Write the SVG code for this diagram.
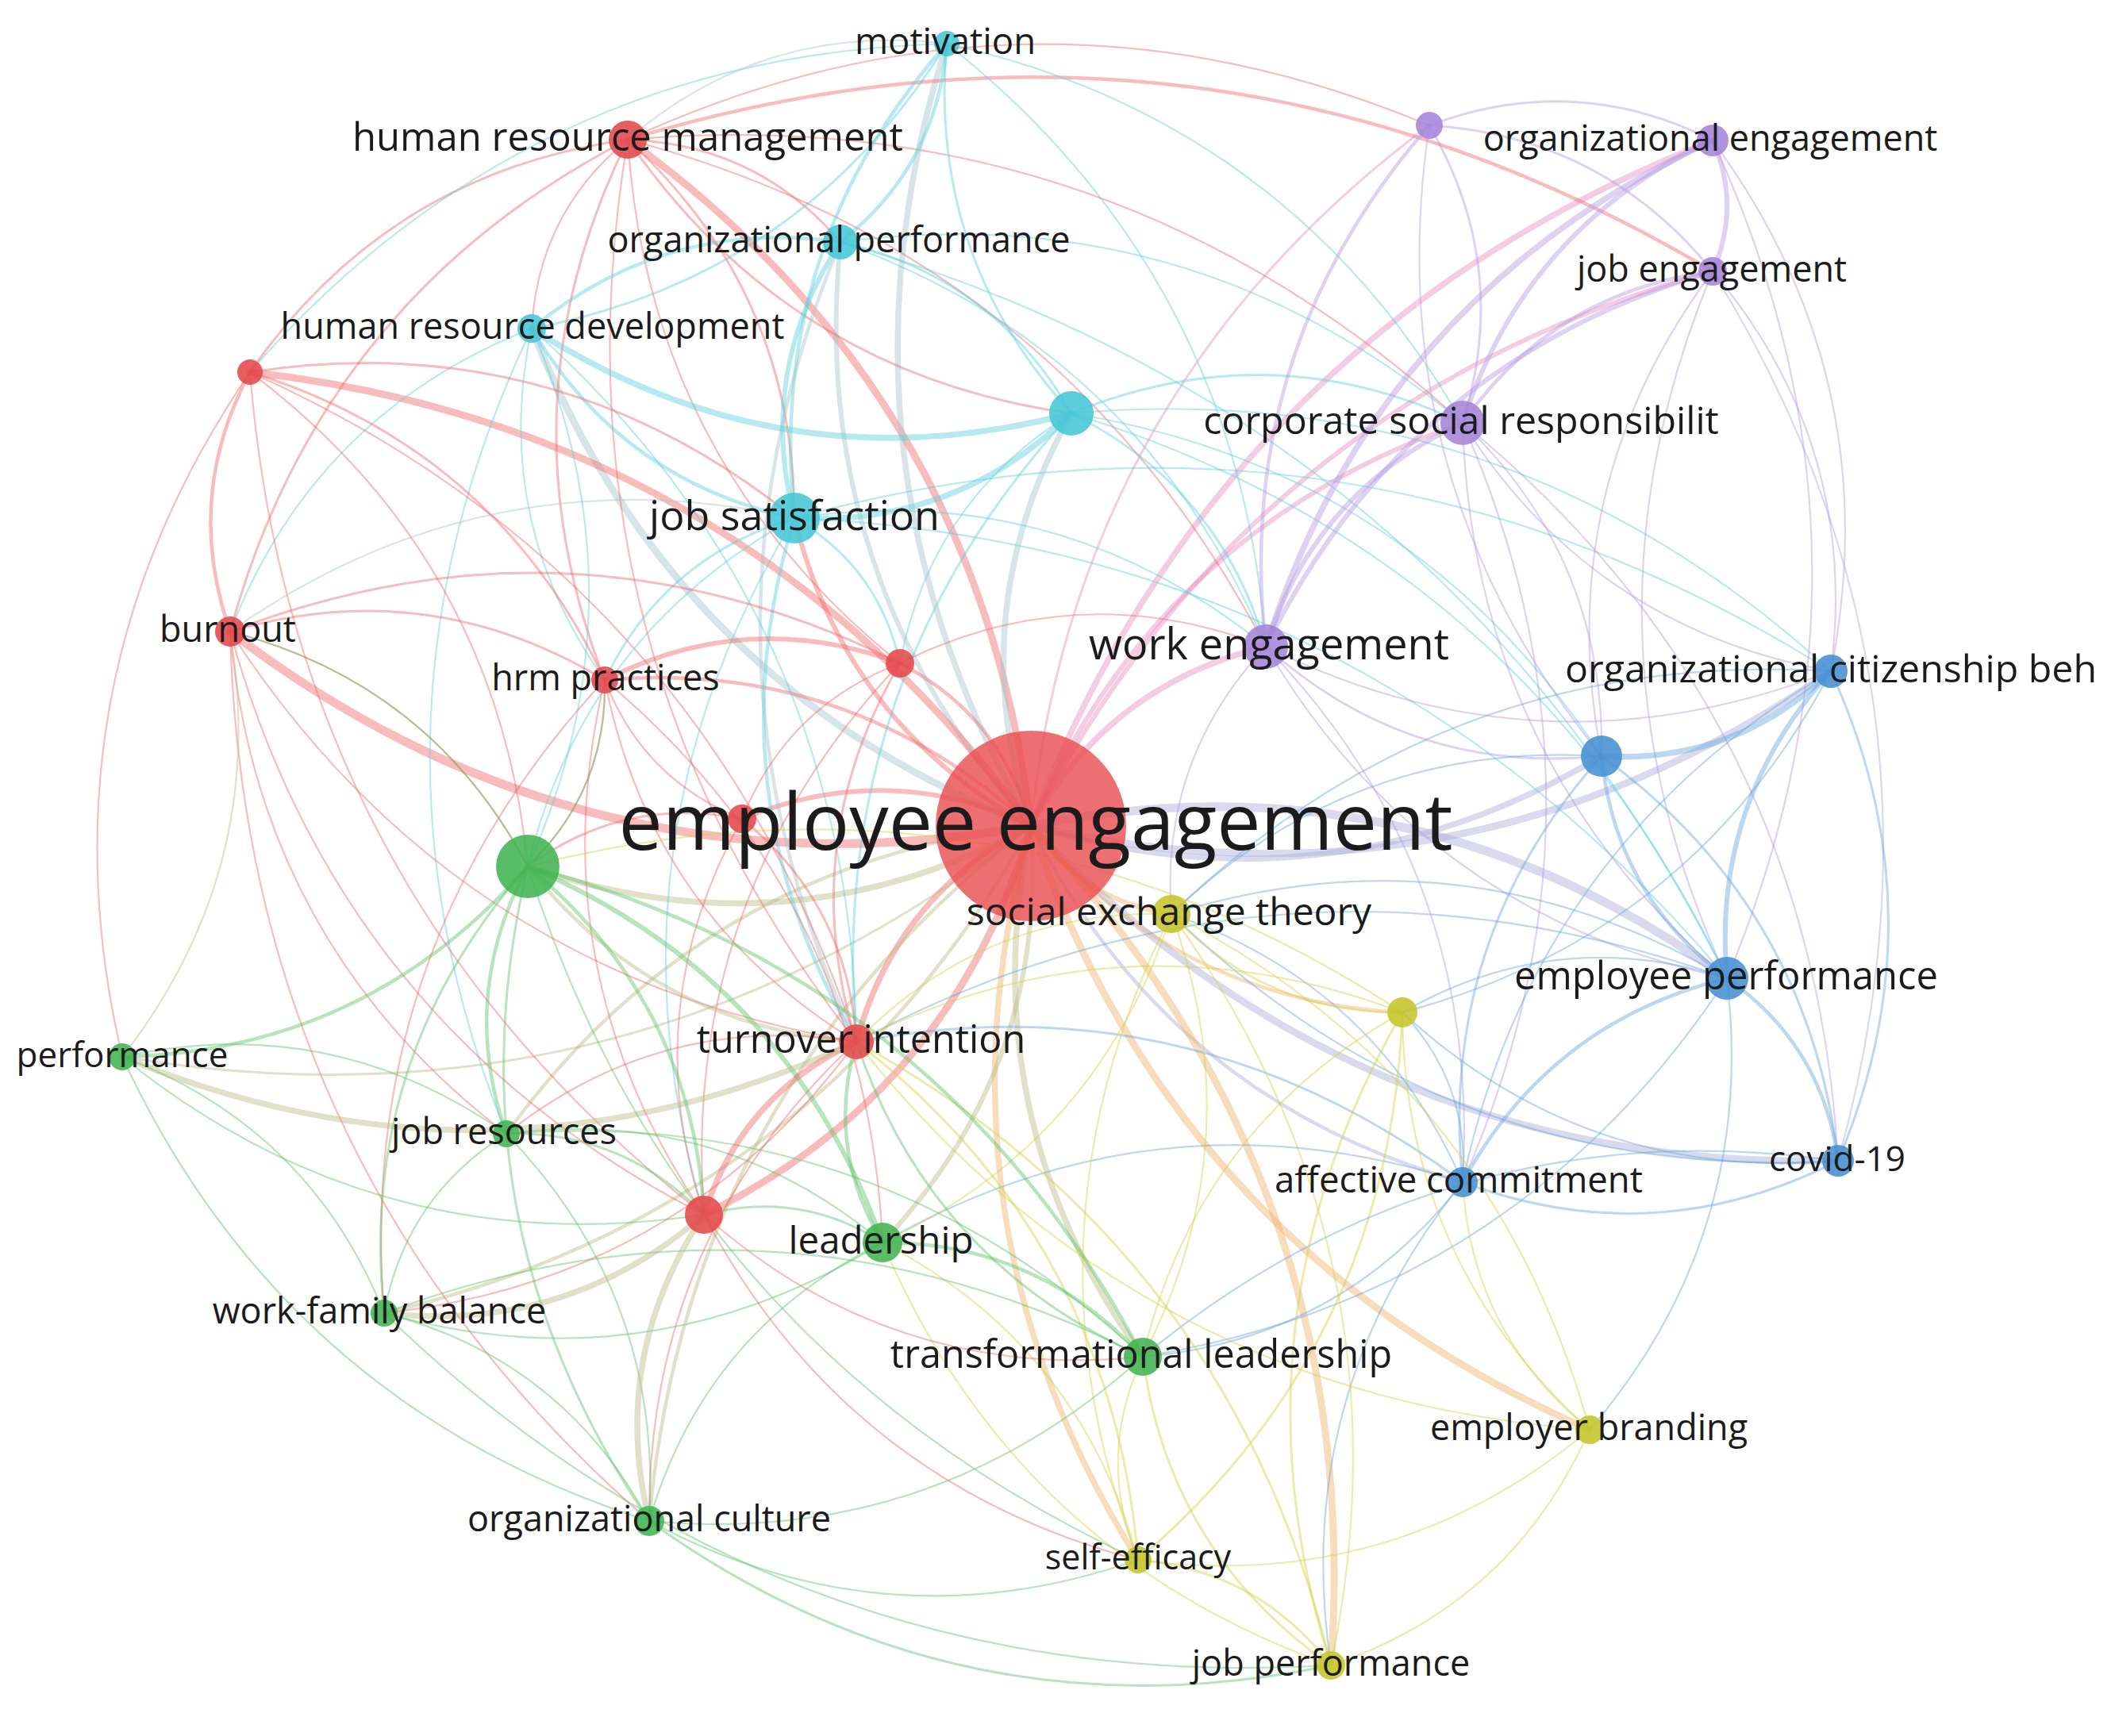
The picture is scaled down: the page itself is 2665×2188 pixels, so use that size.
<svg xmlns="http://www.w3.org/2000/svg" width="2665" height="2188" viewBox="0 0 2665 2188">
<style>
.e{fill:none;vector-effect:non-scaling-stroke;stroke-linecap:round;stroke-opacity:.45}
.w2{stroke-width:2.2}.w3{stroke-width:3}.w4{stroke-width:4.5}.w5{stroke-width:6}.w6{stroke-width:7.5}.w7{stroke-width:9}.w8{stroke-width:11}
.r{stroke:#ef6b6d}.g{stroke:#5fc46a}.b{stroke:#6aa7de}.y{stroke:#d3d348}.p{stroke:#b69ae2}.c{stroke:#5fd0de}
.rc{stroke:#a6c6cc}.rb{stroke:#aaaed6}.ry{stroke:#eeb46a}.rg{stroke:#bdbb86}.rp{stroke:#e791bf}.pb{stroke:#9fb0e0}
circle{fill-opacity:.88}
.nr{fill:#e4484b}.ng{fill:#41b451}.nb{fill:#4690d3}.ny{fill:#c5c52a}.np{fill:#a484d8}.nc{fill:#45c6d6}
.big{fill:#ea4f52;fill-opacity:.82}
.t{font-family:"Open Sans","Liberation Sans",sans-serif;fill:#1b1b1b;text-anchor:middle}
</style>
<rect width="2665" height="2188" fill="#fff"/>
<g id="connectors">
<path class="e r w7" d="M0 0Q.5 .22 1 0" transform="matrix(-508 -865 865 -508 1299 1041)"/>
<path class="e rc w6" d="M0 0Q.5-.22 1 0" transform="matrix(-106 -986 986 -106 1299 1041)"/>
<path class="e rc w5" d="M0 0Q.5-.22 1 0" transform="matrix(-240 -736 736 -240 1299 1041)"/>
<path class="e rc w7" d="M0 0Q.5-.22 1 0" transform="matrix(-629 -627 627 -629 1299 1041)"/>
<path class="e r w7" d="M0 0Q.5 .22 1 0" transform="matrix(-984 -572 572 -984 1299 1041)"/>
<path class="e rc w6" d="M0 0Q.5-.22 1 0" transform="matrix(51 -520 520 51 1299 1041)"/>
<path class="e r w5" d="M0 0Q.5-.22 1 0" transform="matrix(-298 -388 388 -298 1299 1041)"/>
<path class="e r w8" d="M0 0Q.5-.22 1 0" transform="matrix(-1009 -245 245 -1009 1299 1041)"/>
<path class="e r w4" d="M0 0Q.5 .22 1 0" transform="matrix(-537 -184 184 -537 1299 1041)"/>
<path class="e r w4" d="M0 0Q.5 .22 1 0" transform="matrix(-165 -205 205 -165 1299 1041)"/>
<path class="e rp w6" d="M0 0Q.5-.22 1 0" transform="matrix(296 -226 226 296 1299 1041)"/>
<path class="e rp w5" d="M0 0Q.5-.22 1 0" transform="matrix(544 -508 508 544 1299 1041)"/>
<path class="e rp w6" d="M0 0Q.5-.22 1 0" transform="matrix(859 -864 864 859 1299 1041)"/>
<path class="e rp w5" d="M0 0Q.5-.22 1 0" transform="matrix(859 -699 699 859 1299 1041)"/>
<path class="e rp w3" d="M0 0Q.5-.22 1 0" transform="matrix(502 -883 883 502 1299 1041)"/>
<path class="e rb w7" d="M0 0Q.5 .22 1 0" transform="matrix(1008 -195 195 1008 1299 1041)"/>
<path class="e rb w6" d="M0 0Q.5 .22 1 0" transform="matrix(719 -88 88 719 1299 1041)"/>
<path class="e rb w8" d="M0 0Q.5-.22 1 0" transform="matrix(877 192 -192 877 1299 1041)"/>
<path class="e rb w7" d="M0 0Q.5 .22 1 0" transform="matrix(1017 422 -422 1017 1299 1041)"/>
<path class="e rb w4" d="M0 0Q.5 .22 1 0" transform="matrix(544 449 -449 544 1299 1041)"/>
<path class="e ry w4" d="M0 0Q.5 .22 1 0" transform="matrix(468 235 -235 468 1299 1041)"/>
<path class="e ry w5" d="M0 0Q.5 .22 1 0" transform="matrix(177 111 -111 177 1299 1041)"/>
<path class="e ry w7" d="M0 0Q.5 .22 1 0" transform="matrix(704 761 -761 704 1299 1041)"/>
<path class="e ry w7" d="M0 0Q.5-.22 1 0" transform="matrix(378 1058 -1058 378 1299 1041)"/>
<path class="e ry w6" d="M0 0Q.5 .22 1 0" transform="matrix(135 925 -925 135 1299 1041)"/>
<path class="e rg w6" d="M0 0Q.5 .22 1 0" transform="matrix(141 669 -669 141 1299 1041)"/>
<path class="e rg w5" d="M0 0Q.5-.22 1 0" transform="matrix(-187 525 -525 -187 1299 1041)"/>
<path class="e r w6" d="M0 0Q.5 .22 1 0" transform="matrix(-220 272 -272 -220 1299 1041)"/>
<path class="e r w7" d="M0 0Q.5-.22 1 0" transform="matrix(-412 490 -490 -412 1299 1041)"/>
<path class="e rg w6" d="M0 0Q.5-.22 1 0" transform="matrix(-634 51 -51 -634 1299 1041)"/>
<path class="e rg w4" d="M0 0Q.5 .22 1 0" transform="matrix(-661 388 -388 -661 1299 1041)"/>
<path class="e rg w4" d="M0 0Q.5-.22 1 0" transform="matrix(-815 614 -614 -815 1299 1041)"/>
<path class="e rg w4" d="M0 0Q.5 .22 1 0" transform="matrix(-481 876 -876 -481 1299 1041)"/>
<path class="e rg w3" d="M0 0Q.5-.22 1 0" transform="matrix(-1145 291 -291 -1145 1299 1041)"/>
<path class="e r w5" d="M0 0Q.5 .22 1 0" transform="matrix(-364 -9 9 -364 1299 1041)"/>
<path class="e r w3" d="M0 0Q.5 .22 1 0" transform="matrix(-476 293 -293 -476 791 176)"/>
<path class="e r w3" d="M0 0Q.5 .22 1 0" transform="matrix(-501 620 -620 -501 791 176)"/>
<path class="e r w3" d="M0 0Q.5-.22 1 0" transform="matrix(268 129 -129 268 791 176)"/>
<path class="e r w3" d="M0 0Q.5-.22 1 0" transform="matrix(210 477 -477 210 791 176)"/>
<path class="e r w3" d="M0 0Q.5 .22 1 0" transform="matrix(559 345 -345 559 791 176)"/>
<path class="e r w2" d="M0 0Q.5-.22 1 0" transform="matrix(804 639 -639 804 791 176)"/>
<path class="e r w4" d="M0 0Q.5-.22 1 0" transform="matrix(1367 166 -166 1367 791 176)"/>
<path class="e r w3" d="M0 0Q.5 .22 1 0" transform="matrix(-29 681 -681 -29 791 176)"/>
<path class="e r w2" d="M0 0Q.5 .22 1 0" transform="matrix(288 1137 -1137 288 791 176)"/>
<path class="e r w2" d="M0 0Q.5 .22 1 0" transform="matrix(-121 238 -238 -121 791 176)"/>
<path class="e r w2" d="M0 0Q.5-.22 1 0" transform="matrix(1052 357 -357 1052 791 176)"/>
<path class="e r w2" d="M0 0Q.5 .22 1 0" transform="matrix(343 660 -660 343 791 176)"/>
<path class="e r w2" d="M0 0Q.5-.22 1 0" transform="matrix(1010 -18 18 1010 791 176)"/>
<path class="e c w4" d="M0 0Q.5 .22 1 0" transform="matrix(-192 598 -598 -192 1193 55)"/>
<path class="e c w4" d="M0 0Q.5-.22 1 0" transform="matrix(-134 250 -250 -134 1193 55)"/>
<path class="e c w3" d="M0 0Q.5 .22 1 0" transform="matrix(157 466 -466 157 1193 55)"/>
<path class="e c w3" d="M0 0Q.5-.22 1 0" transform="matrix(-523 359 -359 -523 1193 55)"/>
<path class="e c w2" d="M0 0Q.5 .22 1 0" transform="matrix(-878 414 -414 -878 1193 55)"/>
<path class="e c w2" d="M0 0Q.5-.22 1 0" transform="matrix(650 478 -478 650 1193 55)"/>
<path class="e c w2" d="M0 0Q.5-.22 1 0" transform="matrix(402 760 -760 402 1193 55)"/>
<path class="e rc w2" d="M0 0Q.5 .22 1 0" transform="matrix(-402 121 -121 -402 1193 55)"/>
<path class="e c w5" d="M0 0Q.5 .22 1 0" transform="matrix(-58 348 -348 -58 1059 305)"/>
<path class="e c w4" d="M0 0Q.5 .22 1 0" transform="matrix(-389 109 -109 -389 1059 305)"/>
<path class="e c w3" d="M0 0Q.5-.22 1 0" transform="matrix(291 216 -216 291 1059 305)"/>
<path class="e c w2" d="M0 0Q.5-.22 1 0" transform="matrix(784 228 -228 784 1059 305)"/>
<path class="e c w2" d="M0 0Q.5-.22 1 0" transform="matrix(536 510 -510 536 1059 305)"/>
<path class="e c w2" d="M0 0Q.5-.22 1 0" transform="matrix(1117 928 -928 1117 1059 305)"/>
<path class="e rc w4" d="M0 0Q.5 .22 1 0" transform="matrix(20 1008 -1008 20 1059 305)"/>
<path class="e c w6" d="M0 0Q.5 .22 1 0" transform="matrix(680 107 -107 680 670 414)"/>
<path class="e c w4" d="M0 0Q.5 .22 1 0" transform="matrix(331 239 -239 331 670 414)"/>
<path class="e c w2" d="M0 0Q.5-.22 1 0" transform="matrix(-5 678 -678 -5 670 414)"/>
<path class="e c w2" d="M0 0Q.5 .22 1 0" transform="matrix(92 443 -443 92 670 414)"/>
<path class="e c w2" d="M0 0Q.5 .22 1 0" transform="matrix(-380 382 -382 -380 670 414)"/>
<path class="e c w2" d="M0 0Q.5 .22 1 0" transform="matrix(-32 1015 -1015 -32 670 414)"/>
<path class="e c w2" d="M0 0Q.5-.22 1 0" transform="matrix(409 899 -899 409 670 414)"/>
<path class="e r w4" d="M0 0Q.5 .22 1 0" transform="matrix(-25 327 -327 -25 315 469)"/>
<path class="e r w3" d="M0 0Q.5-.22 1 0" transform="matrix(686 184 -184 686 315 469)"/>
<path class="e r w3" d="M0 0Q.5-.22 1 0" transform="matrix(447 388 -388 447 315 469)"/>
<path class="e r w2" d="M0 0Q.5-.22 1 0" transform="matrix(764 844 -844 764 315 469)"/>
<path class="e r w2" d="M0 0Q.5 .22 1 0" transform="matrix(572 1062 -1062 572 315 469)"/>
<path class="e r w2" d="M0 0Q.5-.22 1 0" transform="matrix(350 623 -623 350 315 469)"/>
<path class="e r w2" d="M0 0Q.5 .22 1 0" transform="matrix(-161 863 -863 -161 315 469)"/>
<path class="e c w6" d="M0 0Q.5-.22 1 0" transform="matrix(-349 132 -132 -349 1350 521)"/>
<path class="e c w3" d="M0 0Q.5-.22 1 0" transform="matrix(493 12 -12 493 1350 521)"/>
<path class="e c w2" d="M0 0Q.5-.22 1 0" transform="matrix(957 325 -325 957 1350 521)"/>
<path class="e c w2" d="M0 0Q.5-.22 1 0" transform="matrix(826 712 -712 826 1350 521)"/>
<path class="e c w3" d="M0 0Q.5-.22 1 0" transform="matrix(245 294 -294 245 1350 521)"/>
<path class="e c w2" d="M0 0Q.5-.22 1 0" transform="matrix(668 432 -432 668 1350 521)"/>
<path class="e c w2" d="M0 0Q.5 .22 1 0" transform="matrix(-216 315 -315 -216 1350 521)"/>
<path class="e c w3" d="M0 0Q.5 .22 1 0" transform="matrix(-271 792 -792 -271 1350 521)"/>
<path class="e c w3" d="M0 0Q.5 .22 1 0" transform="matrix(-239 204 -204 -239 1001 653)"/>
<path class="e c w4" d="M0 0Q.5 .22 1 0" transform="matrix(78 660 -660 78 1001 653)"/>
<path class="e c w2" d="M0 0Q.5-.22 1 0" transform="matrix(594 162 -162 594 1001 653)"/>
<path class="e c w2" d="M0 0Q.5-.22 1 0" transform="matrix(1306 193 -193 1306 1001 653)"/>
<path class="e rc w2" d="M0 0Q.5 .22 1 0" transform="matrix(-711 143 -143 -711 1001 653)"/>
<path class="e c w2" d="M0 0Q.5 .22 1 0" transform="matrix(-336 439 -439 -336 1001 653)"/>
<path class="e c w3" d="M0 0Q.5-.22 1 0" transform="matrix(133 183 -183 133 1001 653)"/>
<path class="e c w2" d="M0 0Q.5-.22 1 0" transform="matrix(1175 580 -580 1175 1001 653)"/>
<path class="e c w2" d="M0 0Q.5 .22 1 0" transform="matrix(-114 878 -878 -114 1001 653)"/>
<path class="e r w3" d="M0 0Q.5-.22 1 0" transform="matrix(844 40 -40 844 290 796)"/>
<path class="e r w3" d="M0 0Q.5-.22 1 0" transform="matrix(472 61 -61 472 290 796)"/>
<path class="e r w2" d="M0 0Q.5 .22 1 0" transform="matrix(789 517 -517 789 290 796)"/>
<path class="e r w2" d="M0 0Q.5 .22 1 0" transform="matrix(597 735 -735 597 290 796)"/>
<path class="e r w2" d="M0 0Q.5-.22 1 0" transform="matrix(375 296 -296 375 290 796)"/>
<path class="e r w2" d="M0 0Q.5 .22 1 0" transform="matrix(348 633 -633 348 290 796)"/>
<path class="e r w2" d="M0 0Q.5 .22 1 0" transform="matrix(528 1121 -1121 528 290 796)"/>
<path class="e r w5" d="M0 0Q.5-.22 1 0" transform="matrix(372 -21 21 372 762 857)"/>
<path class="e r w2" d="M0 0Q.5 .22 1 0" transform="matrix(317 456 -456 317 762 857)"/>
<path class="e r w2" d="M0 0Q.5 .22 1 0" transform="matrix(125 674 -674 125 762 857)"/>
<path class="e r w2" d="M0 0Q.5-.22 1 0" transform="matrix(-97 235 -235 -97 762 857)"/>
<path class="e r w2" d="M0 0Q.5-.22 1 0" transform="matrix(350 709 -709 350 762 857)"/>
<path class="e r w2" d="M0 0Q.5 .22 1 0" transform="matrix(173 175 -175 173 762 857)"/>
<path class="e r w2" d="M0 0Q.5 .22 1 0" transform="matrix(-278 798 -798 -278 762 857)"/>
<path class="e r w3" d="M0 0Q.5 .22 1 0" transform="matrix(-55 477 -477 -55 1134 836)"/>
<path class="e r w2" d="M0 0Q.5 .22 1 0" transform="matrix(-247 695 -695 -247 1134 836)"/>
<path class="e r w2" d="M0 0Q.5-.22 1 0" transform="matrix(461 -21 21 461 1134 836)"/>
<path class="e r w2" d="M0 0Q.5 .22 1 0" transform="matrix(-199 196 -196 -199 1134 836)"/>
<path class="e r w3" d="M0 0Q.5-.22 1 0" transform="matrix(144 281 -281 144 935 1032)"/>
<path class="e r w3" d="M0 0Q.5 .22 1 0" transform="matrix(-270 60 -60 -270 935 1032)"/>
<path class="e r w2" d="M0 0Q.5 .22 1 0" transform="matrix(-48 499 -499 -48 935 1032)"/>
<path class="e p w6" d="M0 0Q.5-.22 1 0" transform="matrix(563 -638 638 563 1595 815)"/>
<path class="e p w5" d="M0 0Q.5-.22 1 0" transform="matrix(563 -473 473 563 1595 815)"/>
<path class="e p w4" d="M0 0Q.5-.22 1 0" transform="matrix(206 -657 657 206 1595 815)"/>
<path class="e p w5" d="M0 0Q.5-.22 1 0" transform="matrix(248 -282 282 248 1595 815)"/>
<path class="e p w2" d="M0 0Q.5 .22 1 0" transform="matrix(712 31 -31 712 1595 815)"/>
<path class="e p w3" d="M0 0Q.5 .22 1 0" transform="matrix(423 138 -138 423 1595 815)"/>
<path class="e p w2" d="M0 0Q.5 .22 1 0" transform="matrix(581 418 -418 581 1595 815)"/>
<path class="e p w2" d="M0 0Q.5-.22 1 0" transform="matrix(248 675 -675 248 1595 815)"/>
<path class="e p w2" d="M0 0Q.5 .22 1 0" transform="matrix(-119 337 -337 -119 1595 815)"/>
<path class="e p w5" d="M0 0Q.5-.22 1 0" transform="matrix(315 -356 356 315 1843 533)"/>
<path class="e p w4" d="M0 0Q.5-.22 1 0" transform="matrix(315 -191 191 315 1843 533)"/>
<path class="e p w3" d="M0 0Q.5 .22 1 0" transform="matrix(-42 -375 375 -42 1843 533)"/>
<path class="e p w2" d="M0 0Q.5 .22 1 0" transform="matrix(464 313 -313 464 1843 533)"/>
<path class="e p w2" d="M0 0Q.5 .22 1 0" transform="matrix(333 700 -700 333 1843 533)"/>
<path class="e p w2" d="M0 0Q.5-.22 1 0" transform="matrix(175 420 -420 175 1843 533)"/>
<path class="e p w2" d="M0 0Q.5-.22 1 0" transform="matrix(0 957 -957 0 1843 533)"/>
<path class="e p w2" d="M0 0Q.5-.22 1 0" transform="matrix(473 930 -930 473 1843 533)"/>
<path class="e p w5" d="M0 0Q.5-.22 1 0" transform="matrix(0 165 -165 0 2158 177)"/>
<path class="e p w3" d="M0 0Q.5 .22 1 0" transform="matrix(-357 -19 19 -357 2158 177)"/>
<path class="e p w2" d="M0 0Q.5-.22 1 0" transform="matrix(149 669 -669 149 2158 177)"/>
<path class="e p w2" d="M0 0Q.5-.22 1 0" transform="matrix(18 1056 -1056 18 2158 177)"/>
<path class="e p w3" d="M0 0Q.5 .22 1 0" transform="matrix(-357 -184 184 -357 2158 342)"/>
<path class="e pb w2" d="M0 0Q.5-.22 1 0" transform="matrix(158 1121 -1121 158 2158 342)"/>
<path class="e p w2" d="M0 0Q.5-.22 1 0" transform="matrix(149 504 -504 149 2158 342)"/>
<path class="e p w2" d="M0 0Q.5 .22 1 0" transform="matrix(-140 611 -611 -140 2158 342)"/>
<path class="e p w2" d="M0 0Q.5 .22 1 0" transform="matrix(18 891 -891 18 2158 342)"/>
<path class="e p w2" d="M0 0Q.5 .22 1 0" transform="matrix(217 795 -795 217 1801 158)"/>
<path class="e b w6" d="M0 0Q.5-.22 1 0" transform="matrix(-289 107 -107 -289 2307 846)"/>
<path class="e b w5" d="M0 0Q.5 .22 1 0" transform="matrix(-131 387 -387 -131 2307 846)"/>
<path class="e b w3" d="M0 0Q.5-.22 1 0" transform="matrix(9 617 -617 9 2307 846)"/>
<path class="e b w2" d="M0 0Q.5 .22 1 0" transform="matrix(-464 644 -644 -464 2307 846)"/>
<path class="e b w2" d="M0 0Q.5 .22 1 0" transform="matrix(-831 306 -306 -831 2307 846)"/>
<path class="e b w2" d="M0 0Q.5-.22 1 0" transform="matrix(-540 430 -430 -540 2307 846)"/>
<path class="e b w4" d="M0 0Q.5 .22 1 0" transform="matrix(158 280 -280 158 2018 953)"/>
<path class="e b w3" d="M0 0Q.5 .22 1 0" transform="matrix(-175 537 -537 -175 2018 953)"/>
<path class="e b w3" d="M0 0Q.5-.22 1 0" transform="matrix(298 510 -510 298 2018 953)"/>
<path class="e b w2" d="M0 0Q.5 .22 1 0" transform="matrix(-542 199 -199 -542 2018 953)"/>
<path class="e b w4" d="M0 0Q.5-.22 1 0" transform="matrix(140 230 -230 140 2176 1233)"/>
<path class="e b w4" d="M0 0Q.5 .22 1 0" transform="matrix(-333 257 -257 -333 2176 1233)"/>
<path class="e b w2" d="M0 0Q.5 .22 1 0" transform="matrix(-409 43 -43 -409 2176 1233)"/>
<path class="e b w2" d="M0 0Q.5 .22 1 0" transform="matrix(-700 -81 81 -700 2176 1233)"/>
<path class="e b w2" d="M0 0Q.5 .22 1 0" transform="matrix(-1097 80 -80 -1097 2176 1233)"/>
<path class="e b w2" d="M0 0Q.5-.22 1 0" transform="matrix(-736 477 -477 -736 2176 1233)"/>
<path class="e b w2" d="M0 0Q.5-.22 1 0" transform="matrix(-173 569 -569 -173 2176 1233)"/>
<path class="e b w3" d="M0 0Q.5 .22 1 0" transform="matrix(473 -27 27 473 1843 1490)"/>
<path class="e b w2" d="M0 0Q.5 .22 1 0" transform="matrix(-367 -338 338 -367 1843 1490)"/>
<path class="e b w2" d="M0 0Q.5 .22 1 0" transform="matrix(-76 -214 214 -76 1843 1490)"/>
<path class="e b w3" d="M0 0Q.5 .22 1 0" transform="matrix(-764 -177 177 -764 1843 1490)"/>
<path class="e b w2" d="M0 0Q.5-.22 1 0" transform="matrix(-403 220 -220 -403 1843 1490)"/>
<path class="e b w2" d="M0 0Q.5 .22 1 0" transform="matrix(-166 609 -609 -166 1843 1490)"/>
<path class="e b w2" d="M0 0Q.5 .22 1 0" transform="matrix(-731 76 -76 -731 1843 1490)"/>
<path class="e b w2" d="M0 0Q.5-.22 1 0" transform="matrix(-549 -187 187 -549 2316 1463)"/>
<path class="e b w2" d="M0 0Q.5-.22 1 0" transform="matrix(-840 -311 311 -840 2316 1463)"/>
<path class="e b w2" d="M0 0Q.5 .22 1 0" transform="matrix(-876 247 -247 -876 2316 1463)"/>
<path class="e y w3" d="M0 0Q.5 .22 1 0" transform="matrix(291 124 -124 291 1476 1152)"/>
<path class="e y w2" d="M0 0Q.5-.22 1 0" transform="matrix(527 650 -650 527 1476 1152)"/>
<path class="e y w2" d="M0 0Q.5-.22 1 0" transform="matrix(201 947 -947 201 1476 1152)"/>
<path class="e y w2" d="M0 0Q.5 .22 1 0" transform="matrix(-42 814 -814 -42 1476 1152)"/>
<path class="e y w2" d="M0 0Q.5-.22 1 0" transform="matrix(-36 558 -558 -36 1476 1152)"/>
<path class="e y w2" d="M0 0Q.5 .22 1 0" transform="matrix(-397 161 -161 -397 1476 1152)"/>
<path class="e y w2" d="M0 0Q.5-.22 1 0" transform="matrix(-364 414 -414 -364 1476 1152)"/>
<path class="e y w3" d="M0 0Q.5 .22 1 0" transform="matrix(-90 823 -823 -90 1767 1276)"/>
<path class="e y w3" d="M0 0Q.5-.22 1 0" transform="matrix(-333 690 -690 -333 1767 1276)"/>
<path class="e y w2" d="M0 0Q.5 .22 1 0" transform="matrix(236 526 -526 236 1767 1276)"/>
<path class="e y w2" d="M0 0Q.5 .22 1 0" transform="matrix(-327 434 -434 -327 1767 1276)"/>
<path class="e y w2" d="M0 0Q.5 .22 1 0" transform="matrix(-688 37 -37 -688 1767 1276)"/>
<path class="e y w2" d="M0 0Q.5 .22 1 0" transform="matrix(-1102 -184 184 -1102 1767 1276)"/>
<path class="e y w2" d="M0 0Q.5-.22 1 0" transform="matrix(-326 297 -297 -326 2003 1802)"/>
<path class="e y w2" d="M0 0Q.5-.22 1 0" transform="matrix(-569 164 -164 -569 2003 1802)"/>
<path class="e y w2" d="M0 0Q.5-.22 1 0" transform="matrix(-924 -489 489 -924 2003 1802)"/>
<path class="e y w2" d="M0 0Q.5-.22 1 0" transform="matrix(-160 -312 312 -160 2003 1802)"/>
<path class="e y w3" d="M0 0Q.5-.22 1 0" transform="matrix(243 133 -133 243 1434 1966)"/>
<path class="e y w2" d="M0 0Q.5-.22 1 0" transform="matrix(6 -256 256 6 1434 1966)"/>
<path class="e y w2" d="M0 0Q.5 .22 1 0" transform="matrix(-322 -400 400 -322 1434 1966)"/>
<path class="e y w3" d="M0 0Q.5 .22 1 0" transform="matrix(-355 -653 653 -355 1434 1966)"/>
<path class="e r w2" d="M0 0Q.5-.22 1 0" transform="matrix(-547 -435 435 -547 1434 1966)"/>
<path class="e y w3" d="M0 0Q.5-.22 1 0" transform="matrix(-237 -389 389 -237 1677 2099)"/>
<path class="e g w3" d="M0 0Q.5-.22 1 0" transform="matrix(-859 -182 182 -859 1677 2099)"/>
<path class="e y w3" d="M0 0Q.5 .22 1 0" transform="matrix(-598 -786 786 -598 1677 2099)"/>
<path class="e y w2" d="M0 0Q.5-.22 1 0" transform="matrix(-565 -533 533 -565 1677 2099)"/>
<path class="e g w2" d="M0 0Q.5-.22 1 0" transform="matrix(-1193 -444 444 -1193 1677 2099)"/>
<path class="e g w4" d="M0 0Q.5 .22 1 0" transform="matrix(-328 -144 144 -328 1440 1710)"/>
<path class="e g w4" d="M0 0Q.5 .22 1 0" transform="matrix(-775 -618 618 -775 1440 1710)"/>
<path class="e g w3" d="M0 0Q.5-.22 1 0" transform="matrix(-361 -397 397 -361 1440 1710)"/>
<path class="e g w2" d="M0 0Q.5-.22 1 0" transform="matrix(-622 207 -207 -622 1440 1710)"/>
<path class="e g w2" d="M0 0Q.5 .22 1 0" transform="matrix(-802 -281 281 -802 1440 1710)"/>
<path class="e r w2" d="M0 0Q.5-.22 1 0" transform="matrix(-553 -179 179 -553 1440 1710)"/>
<path class="e g w2" d="M0 0Q.5 .22 1 0" transform="matrix(-956 -55 55 -956 1440 1710)"/>
<path class="e g w5" d="M0 0Q.5 .22 1 0" transform="matrix(-447 -474 474 -447 1112 1566)"/>
<path class="e g w4" d="M0 0Q.5-.22 1 0" transform="matrix(-33 -253 253 -33 1112 1566)"/>
<path class="e g w3" d="M0 0Q.5 .22 1 0" transform="matrix(-225 -35 35 -225 1112 1566)"/>
<path class="e g w2" d="M0 0Q.5 .22 1 0" transform="matrix(-474 -137 137 -474 1112 1566)"/>
<path class="e g w2" d="M0 0Q.5 .22 1 0" transform="matrix(-294 351 -351 -294 1112 1566)"/>
<path class="e g w2" d="M0 0Q.5-.22 1 0" transform="matrix(-628 89 -89 -628 1112 1566)"/>
<path class="e r w6" d="M0 0Q.5 .22 1 0" transform="matrix(-192 218 -218 -192 1079 1313)"/>
<path class="e rg w4" d="M0 0Q.5-.22 1 0" transform="matrix(-414 -221 221 -414 1079 1313)"/>
<path class="e rg w6" d="M0 0Q.5-.22 1 0" transform="matrix(-925 19 -19 -925 1079 1313)"/>
<path class="e r w2" d="M0 0Q.5 .22 1 0" transform="matrix(-441 116 -116 -441 1079 1313)"/>
<path class="e r w2" d="M0 0Q.5 .22 1 0" transform="matrix(-261 604 -604 -261 1079 1313)"/>
<path class="e r w2" d="M0 0Q.5-.22 1 0" transform="matrix(-595 342 -342 -595 1079 1313)"/>
<path class="e g w4" d="M0 0Q.5-.22 1 0" transform="matrix(-511 240 -240 -511 665 1092)"/>
<path class="e g w4" d="M0 0Q.5 .22 1 0" transform="matrix(-27 337 -337 -27 665 1092)"/>
<path class="e g w3" d="M0 0Q.5 .22 1 0" transform="matrix(-181 563 -563 -181 665 1092)"/>
<path class="e g w3" d="M0 0Q.5 .22 1 0" transform="matrix(153 825 -825 153 665 1092)"/>
<path class="e g w4" d="M0 0Q.5-.22 1 0" transform="matrix(222 439 -439 222 665 1092)"/>
<path class="e g w2" d="M0 0Q.5 .22 1 0" transform="matrix(97 -235 235 97 665 1092)"/>
<path class="e g w2" d="M0 0Q.5 .22 1 0" transform="matrix(-375 -296 296 -375 665 1092)"/>
<path class="e g w2" d="M0 0Q.5 .22 1 0" transform="matrix(769 874 -874 769 665 1092)"/>
<path class="e g w2" d="M0 0Q.5 .22 1 0" transform="matrix(-154 226 -226 -154 638 1429)"/>
<path class="e g w2" d="M0 0Q.5-.22 1 0" transform="matrix(180 488 -488 180 638 1429)"/>
<path class="e g w3" d="M0 0Q.5-.22 1 0" transform="matrix(249 102 -102 249 638 1429)"/>
<path class="e g w2" d="M0 0Q.5 .22 1 0" transform="matrix(-484 -97 97 -484 638 1429)"/>
<path class="e rg w6" d="M0 0Q.5 .22 1 0" transform="matrix(403 -124 124 403 484 1655)"/>
<path class="e g w2" d="M0 0Q.5-.22 1 0" transform="matrix(334 262 -262 334 484 1655)"/>
<path class="e g w2" d="M0 0Q.5 .22 1 0" transform="matrix(-330 -323 323 -330 484 1655)"/>
<path class="e rg w6" d="M0 0Q.5-.22 1 0" transform="matrix(69 -386 386 69 818 1917)"/>
<path class="e g w2" d="M0 0Q.5 .22 1 0" transform="matrix(616 49 -49 616 818 1917)"/>
<path class="e g w2" d="M0 0Q.5-.22 1 0" transform="matrix(-664 -585 585 -664 818 1917)"/>
<path class="e rg w2" d="M0 0Q.5 .22 1 0" transform="matrix(136 -536 536 136 154 1332)"/>
<path class="e g w2" d="M0 0Q.5 .22 1 0" transform="matrix(733 199 -199 733 154 1332)"/>
</g>
<g id="nodes">
<g id="node-red-1"><circle class="nr" cx="315" cy="469" r="16"/></g>
<g id="node-cyan-1"><circle class="nc" cx="1350" cy="521" r="28"/></g>
<g id="node-red-2"><circle class="nr" cx="1134" cy="836" r="18"/></g>
<g id="node-red-3"><circle class="nr" cx="935" cy="1032" r="18"/></g>
<g id="node-green-1"><circle class="ng" cx="665" cy="1092" r="40"/></g>
<g id="node-yellow-1"><circle class="ny" cx="1767" cy="1276" r="19"/></g>
<g id="node-red-4"><circle class="nr" cx="887" cy="1531" r="24"/></g>
<g id="node-blue-1"><circle class="nb" cx="2018" cy="953" r="26"/></g>
<g id="node-purple-1"><circle class="np" cx="1801" cy="158" r="17"/></g>
<g id="employee-engagement"><circle class="big" cx="1299" cy="1041" r="120"/><text class="t" x="1305" y="1071" font-size="98.5">employee engagement</text></g>
<g id="human-resource-management"><circle class="nr" cx="791" cy="176" r="24"/><text class="t" x="791" y="190" font-size="49">human resource management</text></g>
<g id="motivation"><circle class="nc" cx="1193" cy="55" r="16"/><text class="t" x="1191" y="68" font-size="45.5">motivation</text></g>
<g id="organizational-performance"><circle class="nc" cx="1059" cy="305" r="22"/><text class="t" x="1057" y="318" font-size="45">organizational performance</text></g>
<g id="human-resource-development"><circle class="nc" cx="670" cy="414" r="18"/><text class="t" x="671" y="427" font-size="45">human resource development</text></g>
<g id="job-satisfaction"><circle class="nc" cx="1001" cy="653" r="32"/><text class="t" x="1001" y="668" font-size="52">job satisfaction</text></g>
<g id="burnout"><circle class="nr" cx="290" cy="796" r="19"/><text class="t" x="287" y="809" font-size="45">burnout</text></g>
<g id="hrm-practices"><circle class="nr" cx="762" cy="857" r="17"/><text class="t" x="763" y="870" font-size="45">hrm practices</text></g>
<g id="work-engagement"><circle class="np" cx="1595" cy="815" r="28"/><text class="t" x="1599" y="831" font-size="54">work engagement</text></g>
<g id="social-exchange-theory"><circle class="ny" cx="1476" cy="1152" r="24"/><text class="t" x="1473" y="1166" font-size="48">social exchange theory</text></g>
<g id="turnover-intention"><circle class="nr" cx="1079" cy="1313" r="22"/><text class="t" x="1085" y="1327" font-size="48.5">turnover intention</text></g>
<g id="performance"><circle class="ng" cx="154" cy="1332" r="17"/><text class="t" x="154" y="1345" font-size="44">performance</text></g>
<g id="job-resources"><circle class="ng" cx="638" cy="1429" r="17"/><text class="t" x="635" y="1442" font-size="45">job resources</text></g>
<g id="leadership"><circle class="ng" cx="1112" cy="1566" r="25"/><text class="t" x="1110" y="1580" font-size="47.5">leadership</text></g>
<g id="work-family-balance"><circle class="ng" cx="484" cy="1655" r="17"/><text class="t" x="478" y="1668" font-size="45">work-family balance</text></g>
<g id="transformational-leadership"><circle class="ng" cx="1440" cy="1710" r="24"/><text class="t" x="1438" y="1724" font-size="48.5">transformational leadership</text></g>
<g id="organizational-culture"><circle class="ng" cx="818" cy="1917" r="19"/><text class="t" x="818" y="1930" font-size="45">organizational culture</text></g>
<g id="self-efficacy"><circle class="ny" cx="1434" cy="1966" r="17"/><text class="t" x="1434" y="1978" font-size="43">self-efficacy</text></g>
<g id="job-performance"><circle class="ny" cx="1677" cy="2099" r="18"/><text class="t" x="1677" y="2112" font-size="45">job performance</text></g>
<g id="employer-branding"><circle class="ny" cx="2003" cy="1802" r="18"/><text class="t" x="2002" y="1815" font-size="45">employer branding</text></g>
<g id="affective-commitment"><circle class="nb" cx="1843" cy="1490" r="19"/><text class="t" x="1838" y="1503" font-size="45.5">affective commitment</text></g>
<g id="covid-19"><circle class="nb" cx="2316" cy="1463" r="20"/><text class="t" x="2315" y="1476" font-size="44">covid-19</text></g>
<g id="employee-performance"><circle class="nb" cx="2176" cy="1233" r="27"/><text class="t" x="2175" y="1247" font-size="49">employee performance</text></g>
<g id="organizational-citizenship-beh"><circle class="nb" cx="2307" cy="846" r="21"/><text class="t" x="2307" y="860" font-size="48.3">organizational citizenship beh</text></g>
<g id="corporate-social-responsibilit"><circle class="np" cx="1843" cy="533" r="28"/><text class="t" x="1841" y="547" font-size="48.3">corporate social responsibilit</text></g>
<g id="job-engagement"><circle class="np" cx="2158" cy="342" r="18"/><text class="t" x="2157" y="355" font-size="45">job engagement</text></g>
<g id="organizational-engagement"><circle class="np" cx="2158" cy="177" r="20"/><text class="t" x="2155" y="190" font-size="45">organizational engagement</text></g>
</g>
</svg>
